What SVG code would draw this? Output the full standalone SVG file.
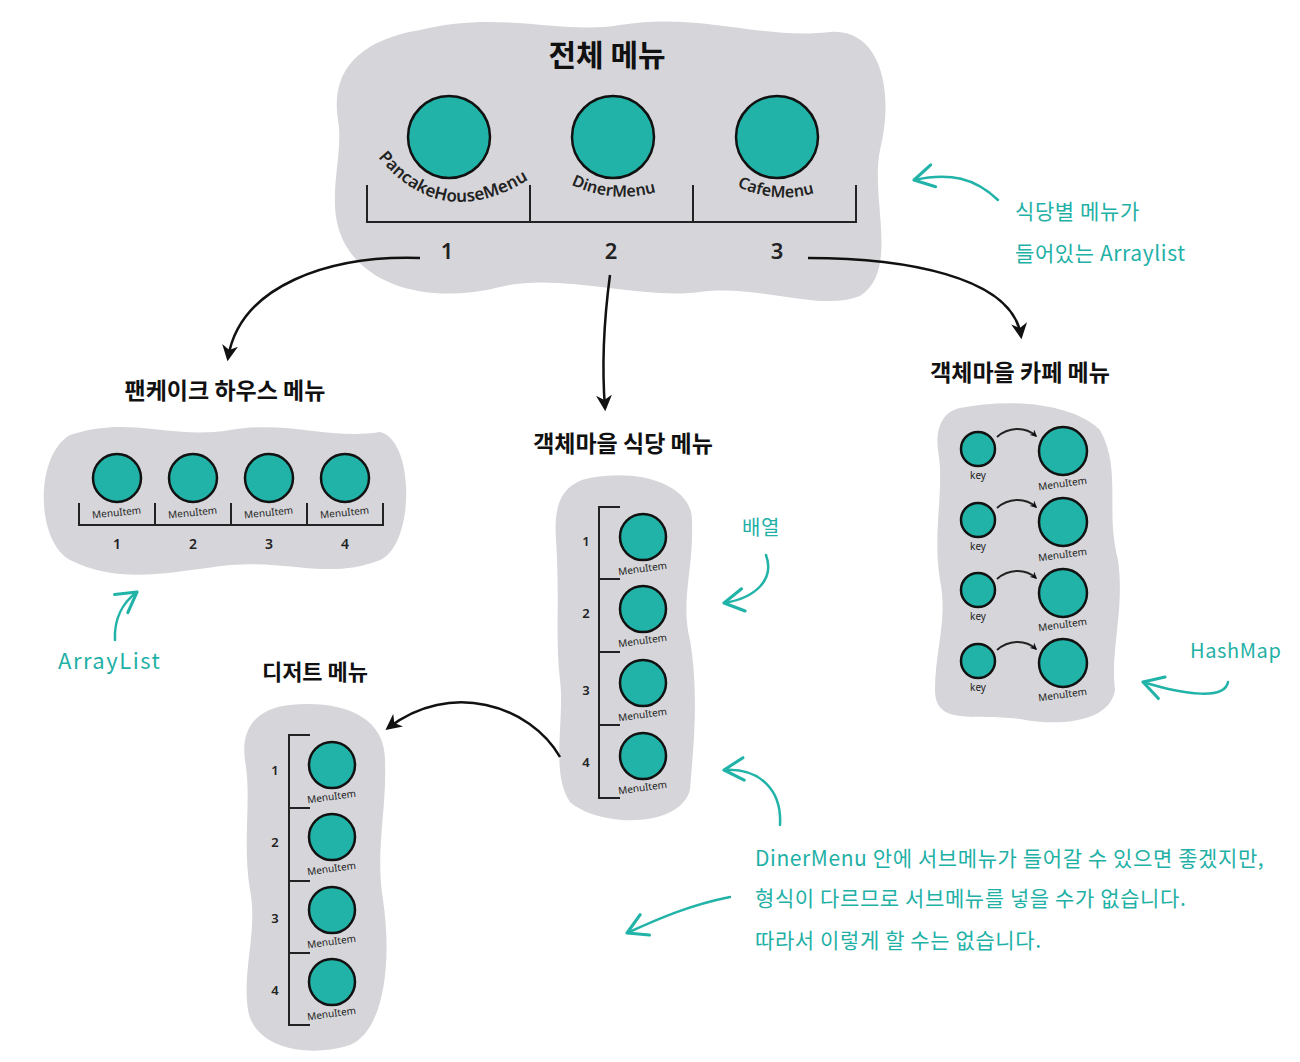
<svg xmlns="http://www.w3.org/2000/svg" width="1300" height="1062" viewBox="0 0 1300 1062">
<defs>
<style>
.blob{fill:#d6d6da}
.c{fill:#21b3a7;stroke:#111;stroke-width:2.5}
.br{fill:none;stroke:#222;stroke-width:2}
.t{font-family:"Noto Sans CJK KR","Noto Sans",sans-serif;font-weight:700;fill:#111;text-anchor:middle}
.n{font-family:"Noto Sans","Liberation Sans",sans-serif;fill:#222;text-anchor:middle;font-weight:600}
.ml{font-family:"Noto Sans","Liberation Sans",sans-serif;font-size:10px;fill:#222;text-anchor:middle}
.a{font-family:"Noto Sans CJK KR","Noto Sans",sans-serif;fill:#1fb0a6;font-size:21px;letter-spacing:0.6px}
.con{fill:none;stroke:#111;stroke-width:2.5}
.ann{fill:none;stroke:#22b3a8;stroke-width:2.5;stroke-linecap:round;stroke-linejoin:round}
</style>
<marker id="ah" viewBox="0 0 10 10" refX="8" refY="5" markerWidth="7" markerHeight="7" orient="auto" markerUnits="userSpaceOnUse">
<path d="M0,0 L10,5 L0,10 L3,5 Z" fill="#111"/>
</marker>
<marker id="ahb" viewBox="0 0 10 10" refX="8" refY="5" markerWidth="16" markerHeight="16" orient="auto" markerUnits="userSpaceOnUse">
<path d="M0,0 L10,5 L0,10 L3,5 Z" fill="#111"/>
</marker>
<marker id="at" viewBox="0 0 20 20" refX="18" refY="10" markerWidth="28" markerHeight="28" orient="auto" markerUnits="userSpaceOnUse">
<path d="M4,2 L18,10 L4,18" fill="none" stroke="#22b3a8" stroke-width="2.2" stroke-linecap="round" stroke-linejoin="round"/>
</marker>
</defs>

<g id="all-menus">
<path class="blob" d="M 420,30 C 500,10 560,35 620,25 C 700,12 760,40 830,32 C 880,28 895,90 880,150 C 870,200 900,270 860,296 C 820,312 760,284 700,292 C 640,300 560,272 500,287 C 440,302 380,292 350,252 C 320,210 345,160 338,120 C 330,70 360,40 420,30 Z"/>
<text class="t" x="607" y="66" font-size="30">전체 메뉴</text>
<circle class="c" cx="449" cy="137" r="41"/>
<circle class="c" cx="613" cy="137" r="41"/>
<circle class="c" cx="777" cy="137" r="41"/>
<path class="br" d="M367,185 V222 H856 V185 M530,185 V222 M693,185 V222"/>
<path id="arc1" d="M 374,152 Q 440,238 534,176" fill="none"/>
<path id="arc2" d="M 562,180 Q 612,208 666,189" fill="none"/>
<path id="arc3" d="M 728,182 Q 776,208 824,190" fill="none"/>
<text class="n" font-size="17" font-weight="400"><textPath href="#arc1" startOffset="50%">PancakeHouseMenu</textPath></text>
<text class="n" font-size="16" font-weight="400"><textPath href="#arc2" startOffset="50%">DinerMenu</textPath></text>
<text class="n" font-size="16" font-weight="400"><textPath href="#arc3" startOffset="50%">CafeMenu</textPath></text>
<text class="n" x="447" y="259" font-size="22">1</text>
<text class="n" x="611" y="259" font-size="22">2</text>
<text class="n" x="777" y="259" font-size="22">3</text>
</g>

<g id="pancake-menu">
<text class="t" x="225" y="399" font-size="23">팬케이크 하우스 메뉴</text>
<path class="blob" d="M 70,435 C 130,415 170,440 230,430 C 290,420 330,440 380,432 C 415,440 415,545 380,560 C 330,580 290,560 230,565 C 170,572 120,585 70,560 C 35,540 35,455 70,435 Z"/>
<circle class="c" cx="117" cy="478" r="24"/>
<circle class="c" cx="193" cy="478" r="24"/>
<circle class="c" cx="269" cy="478" r="24"/>
<circle class="c" cx="345" cy="478" r="24"/>
<path class="br" d="M79,503 V525 H383 V503 M155,503 V525 M231,503 V525 M307,503 V525"/>
<text class="ml" x="117" y="516" transform="rotate(-6 117 516)">MenuItem</text>
<text class="ml" x="193" y="516" transform="rotate(-6 193 516)">MenuItem</text>
<text class="ml" x="269" y="516" transform="rotate(-6 269 516)">MenuItem</text>
<text class="ml" x="345" y="516" transform="rotate(-6 345 516)">MenuItem</text>
<text class="n" x="117" y="549" font-size="14">1</text>
<text class="n" x="193" y="549" font-size="14">2</text>
<text class="n" x="269" y="549" font-size="14">3</text>
<text class="n" x="345" y="549" font-size="14">4</text>
</g>

<g id="diner-menu">
<text class="t" x="623" y="452" font-size="23">객체마을 식당 메뉴</text>
<path class="blob" d="M 590,478 C 640,468 692,485 692,520 C 694,570 680,600 690,640 C 700,700 692,760 690,790 C 680,828 600,828 570,802 C 550,772 565,720 560,680 C 555,640 560,600 556,540 C 553,500 565,483 590,478 Z"/>
<path class="br" d="M620,507 H599 V798 H620 M599,579 H620 M599,652 H620 M599,725 H620"/>
<circle class="c" cx="643" cy="537" r="23"/>
<circle class="c" cx="643" cy="609" r="23"/>
<circle class="c" cx="643" cy="683" r="23"/>
<circle class="c" cx="643" cy="756" r="23"/>
<text class="ml" x="643" y="572" transform="rotate(-8 643 572)">MenuItem</text>
<text class="ml" x="643" y="644" transform="rotate(-8 643 644)">MenuItem</text>
<text class="ml" x="643" y="718" transform="rotate(-8 643 718)">MenuItem</text>
<text class="ml" x="643" y="791" transform="rotate(-8 643 791)">MenuItem</text>
<text class="n" x="586" y="546" font-size="13">1</text>
<text class="n" x="586" y="618" font-size="13">2</text>
<text class="n" x="586" y="695" font-size="13">3</text>
<text class="n" x="586" y="767" font-size="13">4</text>
</g>

<g id="cafe-menu">
<text class="t" x="1020" y="381" font-size="23">객체마을 카페 메뉴</text>
<path class="blob" d="M 960,408 C 1010,398 1072,403 1100,430 C 1122,470 1105,510 1118,560 C 1125,610 1110,650 1115,690 C 1110,722 1060,727 1020,719 C 975,713 935,727 935,690 C 935,650 948,620 940,580 C 932,530 945,490 938,450 C 935,425 945,411 960,408 Z"/>
<circle class="c" cx="978" cy="449" r="17"/>
<circle class="c" cx="978" cy="520" r="17"/>
<circle class="c" cx="978" cy="590" r="17"/>
<circle class="c" cx="978" cy="661" r="17"/>
<circle class="c" cx="1063" cy="451" r="24"/>
<circle class="c" cx="1063" cy="522" r="24"/>
<circle class="c" cx="1063" cy="593" r="24"/>
<circle class="c" cx="1063" cy="663" r="24"/>
<path class="br" d="M997,437 C 1008,427 1025,426 1036,436" marker-end="url(#ah)"/>
<path class="br" d="M997,508 C 1008,498 1025,497 1036,507" marker-end="url(#ah)"/>
<path class="br" d="M997,579 C 1008,569 1025,568 1036,578" marker-end="url(#ah)"/>
<path class="br" d="M997,650 C 1008,640 1025,639 1036,649" marker-end="url(#ah)"/>
<text class="ml" x="978" y="479">key</text>
<text class="ml" x="978" y="550">key</text>
<text class="ml" x="978" y="620">key</text>
<text class="ml" x="978" y="691">key</text>
<text class="ml" x="1063" y="487" transform="rotate(-8 1063 487)">MenuItem</text>
<text class="ml" x="1063" y="558" transform="rotate(-8 1063 558)">MenuItem</text>
<text class="ml" x="1063" y="628" transform="rotate(-8 1063 628)">MenuItem</text>
<text class="ml" x="1063" y="698" transform="rotate(-8 1063 698)">MenuItem</text>
</g>

<g id="dessert-menu">
<text class="t" x="315" y="680" font-size="22">디저트 메뉴</text>
<path class="blob" d="M 290,705 C 340,700 385,715 385,760 C 387,810 375,850 383,900 C 392,960 385,1030 350,1045 C 310,1058 255,1050 248,1010 C 242,970 258,930 250,890 C 242,840 252,800 245,760 C 240,725 260,708 290,705 Z"/>
<path class="br" d="M310,735 H289 V1025 H310 M289,808 H310 M289,881 H310 M289,953 H310"/>
<circle class="c" cx="332" cy="765" r="23"/>
<circle class="c" cx="332" cy="837" r="23"/>
<circle class="c" cx="332" cy="910" r="23"/>
<circle class="c" cx="332" cy="982" r="23"/>
<text class="ml" x="332" y="800" transform="rotate(-8 332 800)">MenuItem</text>
<text class="ml" x="332" y="872" transform="rotate(-8 332 872)">MenuItem</text>
<text class="ml" x="332" y="945" transform="rotate(-8 332 945)">MenuItem</text>
<text class="ml" x="332" y="1017" transform="rotate(-8 332 1017)">MenuItem</text>
<text class="n" x="275" y="775" font-size="13">1</text>
<text class="n" x="275" y="847" font-size="13">2</text>
<text class="n" x="275" y="923" font-size="13">3</text>
<text class="n" x="275" y="995" font-size="13">4</text>
</g>

<g id="connectors">
<path class="con" d="M 420,258 C 330,255 240,285 228,358" marker-end="url(#ahb)"/>
<path class="con" d="M 610,275 C 604,320 602,370 605,408" marker-end="url(#ahb)"/>
<path class="con" d="M 808,258 C 900,258 1012,275 1021,336" marker-end="url(#ahb)"/>
<path class="con" d="M 560,757 C 530,705 450,680 388,728" marker-end="url(#ahb)"/>
</g>

<g id="annotations">
<path class="ann" d="M 998,200 C 975,178 950,172 914,180" marker-end="url(#at)"/>
<text class="a" x="1015" y="219">식당별 메뉴가</text>
<text class="a" x="1015" y="261">들어있는 Arraylist</text>
<path class="ann" d="M 115,640 C 114,620 122,603 137,592" marker-end="url(#at)"/>
<text class="a" x="58" y="669" style="font-size:22px;letter-spacing:1.5px">ArrayList</text>
<text class="a" x="742" y="535" style="font-size:20px">배열</text>
<path class="ann" d="M 766,555 C 775,580 755,598 724,603" marker-end="url(#at)"/>
<text class="a" x="1190" y="658" style="font-size:20px">HashMap</text>
<path class="ann" d="M 1228,682 C 1225,700 1185,695 1143,682" marker-end="url(#at)"/>
<path class="ann" d="M 780,825 C 782,790 760,768 724,770" marker-end="url(#at)"/>
<path class="ann" d="M 730,897 C 690,905 660,918 627,933" marker-end="url(#at)"/>
<text class="a" x="755" y="866">DinerMenu 안에 서브메뉴가 들어갈 수 있으면 좋겠지만,</text>
<text class="a" x="755" y="906">형식이 다르므로 서브메뉴를 넣을 수가 없습니다.</text>
<text class="a" x="755" y="948">따라서 이렇게 할 수는 없습니다.</text>
</g>
</svg>
